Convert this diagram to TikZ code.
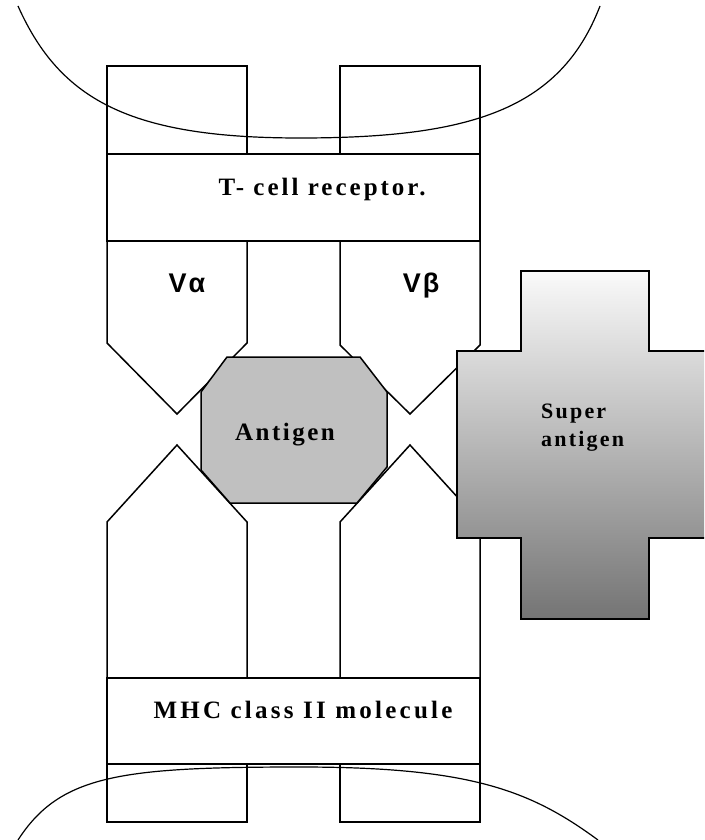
\documentclass[tikz,border=0pt]{standalone}
\usepackage{fontspec}
\setmainfont{Liberation Serif}
\newfontfamily\vfont{Liberation Sans}
\definecolor{antigengray}{RGB}{192,192,192}
\definecolor{crosstop}{RGB}{250,250,250}
\definecolor{crossbot}{RGB}{116,116,116}
\newcommand\mylblfont[1]{\fontsize{25}{30}\selectfont\bfseries\addfontfeatures{LetterSpace=#1}}
\begin{document}
\begin{tikzpicture}[x=1pt,y=-1pt,
  shapeline/.style={draw=black,line width=1.5pt,line join=miter},
  curveline/.style={draw=black,line width=1.2pt},
  lbl/.style={inner sep=0pt,anchor=base,text=black}]
\clip (0,0) rectangle (704,840);
% membrane curves
\draw[curveline] (18,6) .. controls (60,100) and (130,138) .. (300,138) .. controls (470,138) and (560,110) .. (600,6);
% T-cell receptor parts
\draw[shapeline] (107,66) rectangle (247,154);
\draw[shapeline] (340,66) rectangle (480,154);
\draw[shapeline] (107,154) rectangle (480,241);
\draw[shapeline] (107,241) -- (107,343) -- (177,414) -- (247,343) -- (247,241);
\draw[shapeline] (340,241) -- (340,345) -- (410,414) -- (480,345) -- (480,241);
% MHC parts
\draw[shapeline] (107,678) -- (107,522) -- (177,445) -- (247,522) -- (247,678);
\draw[shapeline] (340,678) -- (340,522) -- (410,445) -- (480,522) -- (480,678);
\draw[shapeline] (107,678) rectangle (480,764);
\draw[shapeline] (107,764) rectangle (247,822);
\draw[shapeline] (340,764) rectangle (480,822);
\draw[curveline] (18,840) .. controls (60,775) and (120,767) .. (300,767) .. controls (470,767) and (530,790) .. (598,840);
% antigen
\draw[shapeline,fill=antigengray] (227,357) -- (360,357) -- (387,392) -- (387,467) -- (357,503) -- (230,503) -- (201,470) -- (201,392) -- cycle;
% super antigen
\draw[shapeline,top color=crosstop,bottom color=crossbot] (521,271) -- (649,271) -- (649,351) -- (713,351) -- (713,538) -- (649,538) -- (649,619) -- (521,619) -- (521,538) -- (457,538) -- (457,351) -- (521,351) -- cycle;
% labels
\node[lbl,font={\mylblfont{12}}] (tcr) at (322,195) {T- cell receptor.};
\node[lbl,font={\vfont\fontsize{27}{30}\selectfont\bfseries}] (va) at (187,292) {V\kern2ptα};
\node[lbl,font={\vfont\fontsize{27}{30}\selectfont\bfseries}] (vb) at (421,292) {V\kern2ptβ};
\node[lbl,font={\mylblfont{10}}] (ag) at (285,440) {Antigen};
\node[inner sep=0pt,anchor=north west,align=left,font={\fontsize{22}{28}\selectfont\bfseries\addfontfeatures{LetterSpace=10}}] (sag) at (541,404) {Super\\antigen};
\node[lbl,font={\mylblfont{13}}] (mhc) at (303,718) {MHC class II molecule};
\end{tikzpicture}
\end{document}
